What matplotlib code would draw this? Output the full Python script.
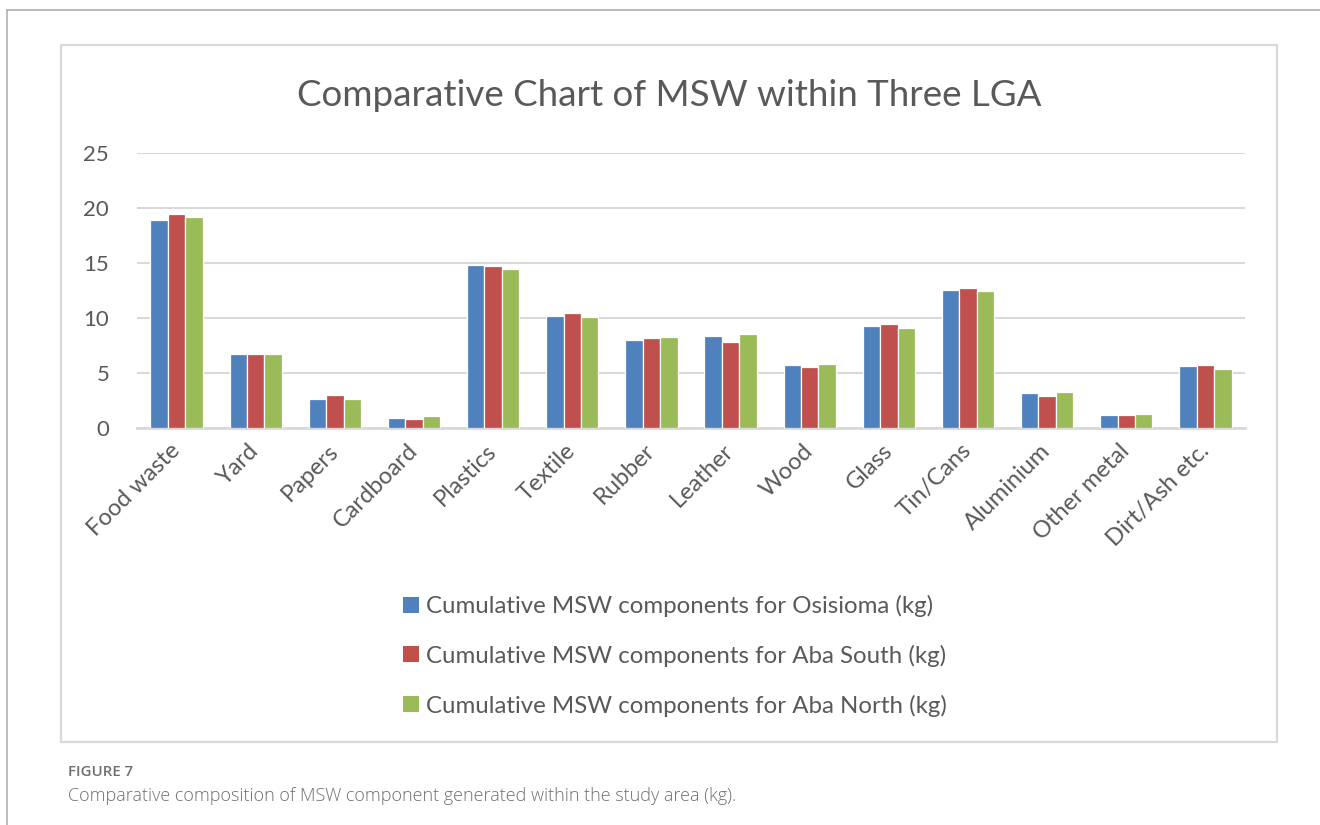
import numpy as np
import matplotlib
matplotlib.use("Agg")
import matplotlib.pyplot as plt
from matplotlib.patches import Patch, Rectangle
from matplotlib.lines import Line2D

categories = ["Food waste", "Yard", "Papers", "Cardboard", "Plastics", "Textile",
              "Rubber", "Leather", "Wood", "Glass", "Tin/Cans", "Aluminium",
              "Other metal", "Dirt/Ash etc."]
osisioma = [18.95, 6.7, 2.6, 0.9, 14.8, 10.2, 8.0, 8.35, 5.7, 9.3, 12.55, 3.2, 1.2, 5.6]
aba_south = [19.45, 6.75, 3.0, 0.8, 14.7, 10.5, 8.2, 7.8, 5.55, 9.5, 12.7, 2.95, 1.2, 5.75]
aba_north = [19.2, 6.75, 2.65, 1.1, 14.5, 10.1, 8.3, 8.55, 5.8, 9.1, 12.5, 3.3, 1.3, 5.4]
series_labels = ["Cumulative MSW components for Osisioma (kg)",
                 "Cumulative MSW components for Aba South (kg)",
                 "Cumulative MSW components for Aba North (kg)"]
colors = ["#4F81BD", "#C0504D", "#9BBB59"]

plt.rcParams["font.family"] = ["Lato", "DejaVu Sans"]
TXT = "#595959"
W, H = 1320, 825

fig = plt.figure(figsize=(W / 100, H / 100), dpi=100)

# outer frame and chart box (pixel coords -> figure fraction)
fig.add_artist(Line2D([7 / W, 7 / W], [0, 1 - 10 / H], color="#b0b0b0", lw=1.2))
fig.add_artist(Line2D([7 / W, 1], [1 - 10 / H, 1 - 10 / H], color="#b0b0b0", lw=1.2))
fig.add_artist(Rectangle((61 / W, 1 - 742 / H), (1277 - 61) / W, (742 - 45) / H,
                         transform=fig.transFigure, fill=False,
                         edgecolor="#d9d9d9", lw=1.6))

ax = fig.add_axes([137 / W, 1 - 428 / H, (1245 - 137) / W, (428 - 153) / H])
x = np.arange(len(categories))
step = 0.22
for i, (vals, c, lab) in enumerate(zip([osisioma, aba_south, aba_north], colors, series_labels)):
    ax.bar(x + (i - 1) * step, vals, width=step, color=c, edgecolor="white",
           linewidth=0.9, label=lab, zorder=3)

ax.set_xlim(-0.5, len(categories) - 0.5)
ax.set_ylim(0, 25)
ax.set_yticks(range(0, 26, 5))
ax.grid(axis="y", color="#d9d9d9", lw=1.5, zorder=0)
for s in ["top", "right", "left"]:
    ax.spines[s].set_visible(False)
ax.spines["bottom"].set_color("#d9d9d9")
ax.spines["bottom"].set_linewidth(2)
ax.tick_params(axis="y", length=0, pad=20, labelsize=16, labelcolor=TXT)
ax.tick_params(axis="x", length=0, pad=14, labelsize=17, labelcolor=TXT)
ax.set_xticks(x)
ax.set_xticklabels(categories, rotation=45, ha="right", va="center",
                   rotation_mode="anchor")

fig.text(669 / W, 1 - 95 / H, "Comparative Chart of MSW within Three LGA",
         ha="center", va="center", fontsize=26.5, color=TXT)

handles = [Patch(facecolor=c, edgecolor="none") for c in colors]
fig.legend(handles, series_labels, loc="upper left",
           bbox_to_anchor=(403 / W, 1 - 595 / H), frameon=False,
           fontsize=17.3, labelcolor=TXT, handlelength=0.65, handleheight=0.65,
           handletextpad=0.3, labelspacing=1.15, borderpad=0, borderaxespad=0)

fig.text(68 / W, 1 - 772 / H, "FIGURE 7", fontsize=10.8, color="#6f6f6f",
         va="center", family=["Open Sans", "DejaVu Sans"], weight="semibold")
fig.text(68 / W, 1 - 796 / H,
         "Comparative composition of MSW component generated within the study area (kg).",
         fontsize=13, color="#6f6f6f", va="center",
         family=["Open Sans", "DejaVu Sans"], weight="light")

fig.savefig("out.png", dpi=100)
